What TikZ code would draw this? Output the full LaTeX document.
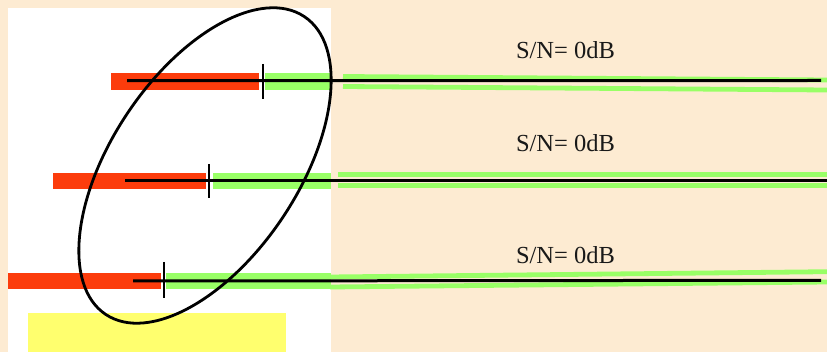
\documentclass[tikz,border=0pt]{standalone}
\usepackage{fontspec}
\setmainfont{Liberation Serif}
\definecolor{bgc}{RGB}{253,235,210}
\definecolor{redc}{RGB}{252,60,12}
\definecolor{greenc}{RGB}{153,255,102}
\definecolor{yelc}{RGB}{255,255,110}
\tikzset{
  snlabel/.style={anchor=base, inner sep=0pt, font=\fontsize{24.5}{28}\selectfont, text=black!90},
  gline/.style={greenc, line width=4.8pt},
  bline/.style={black, line width=3pt},
  tickline/.style={black, line width=1.8pt},
}
\begin{document}
\begin{tikzpicture}[x=1pt,y=-1pt]
\useasboundingbox (0,0) rectangle (827,352);
\fill[bgc] (0,0) rectangle (827,352);
\fill[white] (8,8) rectangle (331,352);
\fill[yelc] (28,313) rectangle (286,352);
% row 1
\fill[redc] (111,73) rectangle (259,90);
\fill[greenc] (265,73) rectangle (331,90);
\draw[gline] (343,76.5) -- (827,80);
\draw[gline] (343,86.5) -- (827,90);
\coordinate (a1) at (127,80.7);
\coordinate (b1) at (821,80.5);
\draw[bline] (a1) -- (b1);
\draw[tickline] (263,64) -- (263,99);
\node[snlabel] (t1) at (565.5,58.3) {S/N= 0dB};
% row 2
\fill[redc] (53,173) rectangle (206,189);
\fill[greenc] (213,173) rectangle (331,189);
\draw[gline] (338,174.8) -- (827,174.8);
\draw[gline] (338,185.5) -- (827,185.5);
\coordinate (a2) at (125,181);
\coordinate (b2) at (827,181);
\draw[bline] (a2) -- (b2);
\draw[tickline] (209,164) -- (209,198);
\node[snlabel] (t2) at (565.5,152) {S/N= 0dB};
% row 3
\fill[redc] (8,273) rectangle (161,289);
\fill[greenc] (166,273) rectangle (331,289);
\draw[gline] (330,277) -- (827,271.7);
\draw[gline] (330,287) -- (827,282);
\coordinate (a3) at (133,281);
\coordinate (b3) at (821,280.3);
\draw[bline] (a3) -- (b3);
\draw[tickline] (164,262) -- (164,298);
\node[snlabel] (t3) at (565.5,263.3) {S/N= 0dB};
% ellipse
\draw[black, line width=2.8pt, shift={(205,165.5)}, rotate=56.3] (0,0) ellipse [x radius=179pt, y radius=93.5pt];
\end{tikzpicture}
\end{document}
